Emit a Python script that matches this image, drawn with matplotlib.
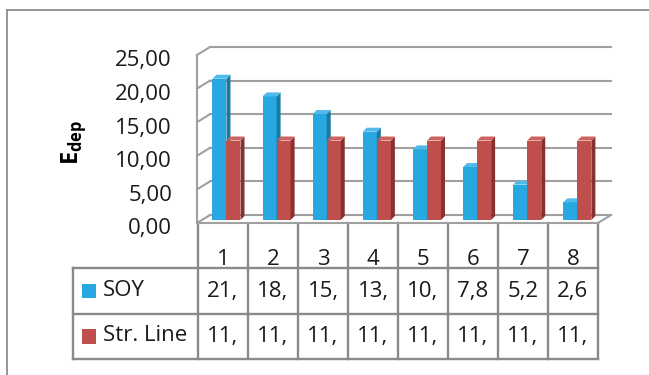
import matplotlib
matplotlib.use("Agg")
import matplotlib.pyplot as plt
from matplotlib.patches import Polygon, Rectangle
from matplotlib.transforms import ScaledTranslation

plt.rcParams['font.family'] = ['Open Sans', 'DejaVu Sans']
plt.rcParams['mathtext.fontset'] = 'custom'
plt.rcParams['mathtext.bf'] = 'Open Sans:bold'
plt.rcParams['mathtext.rm'] = 'Open Sans'

# depreciation per year
years = ['1', '2', '3', '4', '5', '6', '7', '8']
soy = [21.02, 18.39, 15.77, 13.14, 10.51, 7.88, 5.26, 2.63]
straight = [11.83, 11.83, 11.83, 11.83, 11.83, 11.83, 11.83, 11.83]
series_names = ['SOY', 'Str. Line']
yticks = [0, 5, 10, 15, 20, 25]

c_front = ['#27A8E0', '#BF4F4C']
c_side = ['#1A7AA5', '#8A302E']
c_top = ['#52BAE8', '#CC6360']
grid_c = '#A0A0A0'
table_c = '#8A8A8A'
txt_c = '#1A1A1A'

W, H = 649, 375
fig = plt.figure(figsize=(W / 100, H / 100), dpi=100)

# outer chart border (only left and top show)
fig.add_artist(plt.Line2D([7 / W, 7 / W], [0, 1 - 10 / H], color='#8C8C8C', lw=1.3))
fig.add_artist(plt.Line2D([7 / W, 1], [1 - 10 / H, 1 - 10 / H], color='#8C8C8C', lw=1.3))

# front plane of the 3d box
x0, x1 = 197, 598
yb, yt = 223, 55
ax = fig.add_axes([x0 / W, (H - yb) / H, (x1 - x0) / W, (yb - yt) / H])
ax.set_xlim(0, 8)
ax.set_ylim(0, 25)
for s in ax.spines.values():
    s.set_visible(False)
ax.set_xticks([])
ax.set_facecolor('none')

ux = (x1 - x0) / 8.0
uy = (yb - yt) / 25.0
dxw, dyw = 13 / ux, 8 / uy          # wall depth
bx, by = 4.9 / ux, 3 / uy           # bars sit a bit behind the front
ddx, ddy = 4 / ux, 4 / uy           # bar depth

# back wall grid + side wall diagonals
for v in yticks:
    ax.plot([dxw, 8 + dxw], [v + dyw, v + dyw], color=grid_c, lw=1.5, clip_on=False, zorder=1)
    ax.plot([0, dxw], [v, v + dyw], color=grid_c, lw=1.5, clip_on=False, zorder=1)
ax.plot([0, 0], [0, 25], color=grid_c, lw=1.5, clip_on=False, zorder=1)
ax.plot([8, 8 + dxw], [0, dyw], color=grid_c, lw=1.5, clip_on=False, zorder=1)

ax.set_yticks(yticks)
ax.set_yticklabels([('%.2f' % v).replace('.', ',') for v in yticks], fontsize=16, color=txt_c)
ax.tick_params(axis='y', length=0, pad=18)
for lbl in ax.get_yticklabels():
    lbl.set_transform(lbl.get_transform() + ScaledTranslation(0, -2.5 / 72, fig.dpi_scale_trans))


def bar3d(xl, w, h, k):
    xa, ya = xl + bx, by
    front = Rectangle((xa, ya), w, h, facecolor=c_front[k], edgecolor='none', zorder=3, clip_on=False)
    side = Polygon([(xa + w, ya), (xa + w + ddx, ya + ddy), (xa + w + ddx, ya + h + ddy), (xa + w, ya + h)],
                   facecolor=c_side[k], edgecolor='none', zorder=3, clip_on=False)
    top = Polygon([(xa, ya + h), (xa + w, ya + h), (xa + w + ddx, ya + h + ddy), (xa + ddx, ya + h + ddy)],
                  facecolor=c_top[k], edgecolor='none', zorder=3, clip_on=False)
    for p in (front, side, top):
        ax.add_patch(p)


bw = 0.28
for i in range(len(years)):
    bar3d(i + 0.21, bw, soy[i], 0)
    bar3d(i + 0.21 + bw, bw, straight[i], 1)

# axis title
fig.text(73 / W, 1 - 142 / H, r'$\mathbf{E}_{\mathbf{dep}}$', rotation=90, fontsize=17,
         ha='center', va='center', color='#000000')

# data table under the plot
tl, tr, tt, tb = 73, 598, 223, 359
tax = fig.add_axes([tl / W, (H - tb) / H, (tr - tl) / W, (tb - tt) / H])
tax.set_xlim(-2.5, 8)
tax.set_ylim(3, 0)
tax.axis('off')

for c in range(9):
    tax.plot([c, c], [0, 3], color=table_c, lw=1.7, clip_on=False)
tax.plot([-2.5, -2.5], [1, 3], color=table_c, lw=1.7, clip_on=False)
tax.plot([0, 8], [0, 0], color=grid_c, lw=1.5, clip_on=False)
for r in (1, 2, 3):
    tax.plot([-2.5, 8], [r, r], color=table_c, lw=1.7, clip_on=False)


def cell_text(v):
    return ('%.2f' % v).replace('.', ',')[:3]


for i, yr in enumerate(years):
    tax.text(i + 0.5, 0.8, yr, fontsize=16, ha='center', va='center', color=txt_c)
    tax.text(i + 0.5, 1.5, cell_text(soy[i]), fontsize=16, ha='center', va='center', color=txt_c)
    tax.text(i + 0.5, 2.5, cell_text(straight[i]), fontsize=16, ha='center', va='center', color=txt_c)

for r, name in enumerate(series_names):
    tax.add_patch(Rectangle((-2.33, r + 1.5 - 0.165), 0.29, 0.33, facecolor=c_front[r], edgecolor='none'))
    tax.text(-1.9, r + 1.48, name, fontsize=16, ha='left', va='center', color=txt_c)

fig.savefig('out.png', dpi=100)
